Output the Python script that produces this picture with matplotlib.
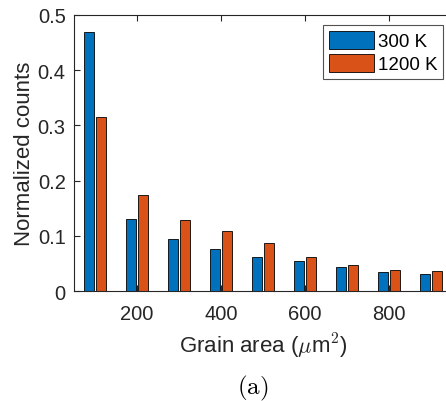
import matplotlib
matplotlib.use("Agg")
import matplotlib.pyplot as plt
import numpy as np
from matplotlib.ticker import FuncFormatter

# grain area bins (um^2) and normalized counts
area = [100, 200, 300, 400, 500, 600, 700, 800, 900]
counts_300 = [0.470, 0.130, 0.094, 0.076, 0.062, 0.055, 0.0435, 0.035, 0.030]
counts_1200 = [0.316, 0.174, 0.128, 0.108, 0.0875, 0.0616, 0.047, 0.0375, 0.0357]
labels = ["300 K", "1200 K"]

plt.rcParams['font.family'] = ['Liberation Sans', 'DejaVu Sans']
plt.rcParams['mathtext.fontset'] = 'cm'

fig = plt.figure(figsize=(4.46, 4.02), dpi=100)
ax = fig.add_axes([74/446, 110/402, 378/446, 276/402])

x = np.array(area)
w = 23
off = 14
ax.bar(x - off, counts_300, width=w, color='#0072BD', edgecolor='black', lw=0.6, label=labels[0])
ax.bar(x + off, counts_1200, width=w, color='#D95319', edgecolor='black', lw=0.6, label=labels[1])

ax.set_xlim(50, 950)
ax.set_ylim(0, 0.5)
ax.set_xticks([200, 400, 600, 800])
ax.set_yticks([0, 0.1, 0.2, 0.3, 0.4, 0.5])
ax.yaxis.set_major_formatter(FuncFormatter(lambda v, p: '0' if v == 0 else f'{v:g}'))

dark = '#262626'
for s in ax.spines.values():
    s.set_color(dark)
    s.set_linewidth(0.8)
ax.tick_params(direction='in', length=4, width=0.8, colors=dark, labelsize=14.5,
               top=True, right=True)
ax.tick_params(axis='x', pad=9)
ax.tick_params(axis='y', pad=6)

ax.set_xlabel(r'Grain area ($\mu$m$^2$)', fontsize=16, color=dark, labelpad=6)
ax.set_ylabel('Normalized counts', fontsize=16, color=dark, labelpad=2)

leg = ax.legend(loc='upper right', bbox_to_anchor=(443/446, 1 - 26/402),
                bbox_transform=fig.transFigure, fontsize=13.5, frameon=True, fancybox=False,
                handlelength=2.4, handleheight=1.1, handletextpad=0.2, borderpad=0.3,
                labelspacing=0.2, borderaxespad=0)
leg.get_frame().set_edgecolor(dark)
leg.get_frame().set_linewidth(0.8)

fig.text(253/446, 1 - 388/402, r'$\mathrm{(a)}$', ha='center', va='center', fontsize=18)

fig.savefig('out.png', dpi=100)
